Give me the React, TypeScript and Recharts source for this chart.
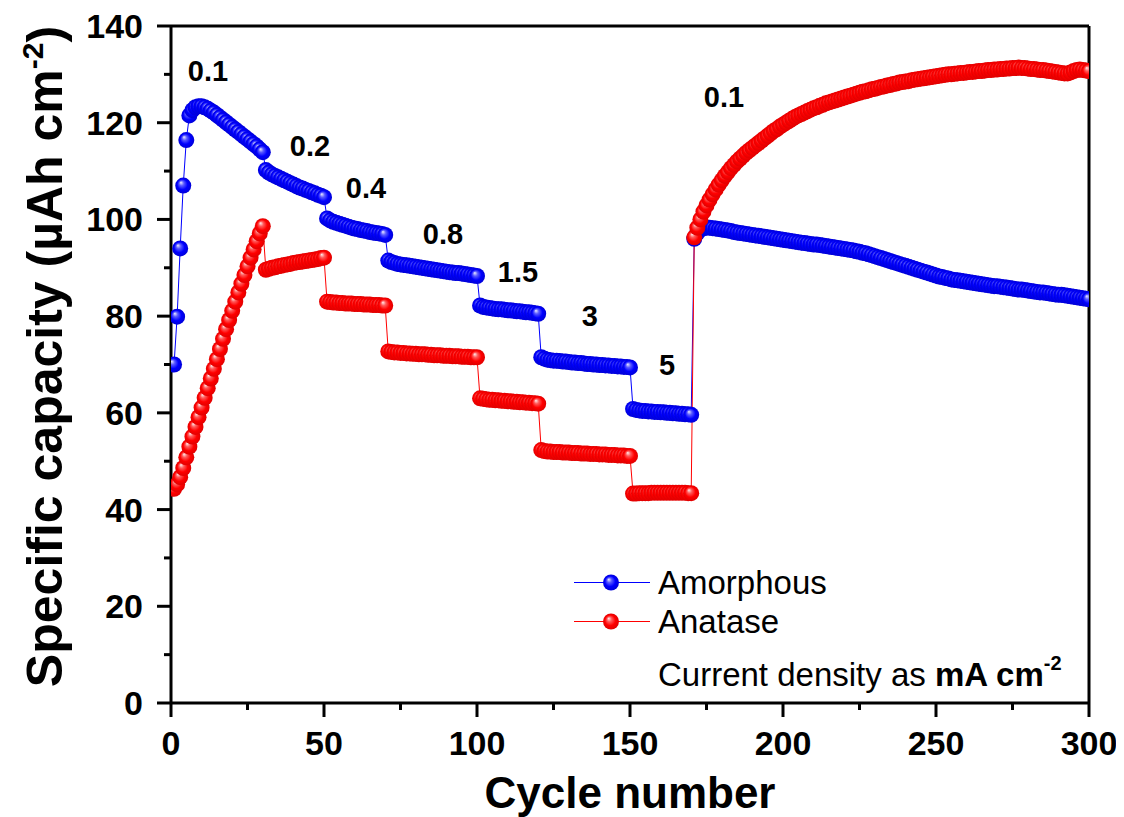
import {
  LineChart, Line, XAxis, YAxis, ReferenceLine, ReferenceDot, Legend, Label,
} from 'recharts'

const FONT = '"Liberation Sans", Arial, sans-serif'

// capacity per cycle, one array per current-density step (mA cm-2)
const amoStep01 = [70.0, 79.9, 94.0, 107.0, 116.4, 121.5, 122.6, 123.2, 123.4, 123.4, 123.2, 122.9, 122.5, 122.1, 121.6,
  121.1, 120.6, 120.1, 119.6, 119.1, 118.6, 118.1, 117.6, 117.1, 116.6, 116.1, 115.6, 115.1, 114.5, 113.9]
const amoStep02 = [110.2, 109.7, 109.3, 109.0, 108.7, 108.4, 108.1, 107.8, 107.5, 107.2, 106.9, 106.6, 106.4, 106.1,
  105.9, 105.6, 105.4, 105.1, 104.9, 104.6]
const amoStep04 = [100.2, 99.8, 99.5, 99.3, 99.1, 98.9, 98.7, 98.5, 98.3, 98.1, 98.0, 97.8, 97.7, 97.6, 97.4, 97.3,
  97.2, 97.1, 97.0, 96.8]
const amoStep08 = [91.5, 91.2, 91.0, 90.8, 90.7, 90.6, 90.5, 90.4, 90.3, 90.2, 90.1, 90.0, 89.9, 89.8, 89.7, 89.6,
  89.5, 89.4, 89.3, 89.2, 89.1, 89.0, 88.9, 88.9, 88.8, 88.7, 88.6, 88.5, 88.4, 88.3]
const amoStep15 = [82.2, 81.9, 81.8, 81.7, 81.6, 81.5, 81.4, 81.4, 81.3, 81.2, 81.2, 81.1, 81.0, 81.0, 80.9, 80.8,
  80.8, 80.7, 80.6, 80.5]
const amoStep3 = [71.5, 71.2, 71.0, 70.9, 70.8, 70.8, 70.7, 70.6, 70.6, 70.5, 70.4, 70.4, 70.3, 70.3, 70.2, 70.1,
  70.1, 70.0, 70.0, 69.9, 69.9, 69.8, 69.8, 69.7, 69.7, 69.6, 69.6, 69.5, 69.5, 69.4]
const amoStep5 = [60.8, 60.6, 60.5, 60.4, 60.4, 60.3, 60.3, 60.2, 60.2, 60.1, 60.1, 60.0, 60.0, 59.9, 59.9, 59.8,
  59.8, 59.7, 59.7, 59.6]
const amoBack01 = [
  96.0, 97.2, 97.9, 98.2, 98.3, 98.3, 98.2, 98.1, 98.0, 97.9,
  97.8, 97.7, 97.6, 97.4, 97.3, 97.2, 97.1, 97.0, 96.9, 96.8,
  96.7, 96.6, 96.5, 96.4, 96.3, 96.2, 96.1, 96.0, 95.9, 95.8,
  95.7, 95.6, 95.5, 95.4, 95.3, 95.2, 95.1, 95.0, 94.9, 94.8,
  94.8, 94.7, 94.6, 94.5, 94.4, 94.3, 94.2, 94.1, 94.0, 93.9,
  93.8, 93.7, 93.6, 93.4, 93.3, 93.1, 93.0, 92.8, 92.6, 92.4,
  92.2, 92.0, 91.8, 91.6, 91.4, 91.2, 91.0, 90.8, 90.6, 90.4,
  90.2, 90.0, 89.8, 89.6, 89.4, 89.2, 89.0, 88.8, 88.6, 88.4,
  88.2, 88.1, 87.9, 87.8, 87.6, 87.5, 87.4, 87.3, 87.2, 87.1,
  87.0, 86.9, 86.8, 86.7, 86.6, 86.5, 86.4, 86.3, 86.2, 86.2,
  86.1, 86.0, 85.9, 85.8, 85.7, 85.6, 85.5, 85.5, 85.4, 85.3,
  85.2, 85.1, 85.0, 84.9, 84.9, 84.8, 84.7, 84.6, 84.5, 84.4,
  84.4, 84.3, 84.2, 84.1, 84.0, 83.9, 83.8, 83.7, 83.6, 83.5,
]

const anaStep01 = [44.3, 45.2, 46.7, 48.6, 50.8, 53.0, 55.1, 57.1, 59.1, 61.1, 63.1, 65.1, 67.1, 69.1, 71.1, 73.2,
  75.3, 77.3, 79.2, 81.1, 83.0, 84.9, 86.7, 88.5, 90.3, 92.1, 93.8, 95.5, 97.1, 98.6]
const anaStep02 = [89.6, 89.8, 90.0, 90.1, 90.3, 90.4, 90.6, 90.7, 90.8, 91.0, 91.1, 91.2, 91.3, 91.4, 91.5, 91.6,
  91.7, 91.8, 92.0, 92.1]
const anaStep04 = [83.0, 82.9, 82.8, 82.8, 82.7, 82.7, 82.6, 82.6, 82.6, 82.5, 82.5, 82.5, 82.4, 82.4, 82.4, 82.3,
  82.3, 82.3, 82.2, 82.2]
const anaStep08 = [72.7, 72.6, 72.5, 72.5, 72.4, 72.4, 72.3, 72.3, 72.2, 72.2, 72.1, 72.1, 72.1, 72.0, 72.0, 71.9,
  71.9, 71.9, 71.8, 71.8, 71.8, 71.7, 71.7, 71.7, 71.6, 71.6, 71.6, 71.5, 71.5, 71.5]
const anaStep15 = [63.0, 62.9, 62.8, 62.7, 62.7, 62.6, 62.6, 62.5, 62.5, 62.4, 62.4, 62.3, 62.3, 62.2, 62.2, 62.1,
  62.1, 62.0, 62.0, 61.9]
const anaStep3 = [52.3, 52.1, 52.0, 52.0, 51.9, 51.9, 51.9, 51.8, 51.8, 51.8, 51.7, 51.7, 51.7, 51.6, 51.6, 51.6,
  51.5, 51.5, 51.5, 51.4, 51.4, 51.4, 51.3, 51.3, 51.3, 51.2, 51.2, 51.2, 51.1, 51.1]
const anaStep5 = [43.3, 43.3, 43.4, 43.4, 43.4, 43.4, 43.5, 43.5, 43.5, 43.5, 43.5, 43.5, 43.5, 43.5, 43.5, 43.5,
  43.5, 43.5, 43.4, 43.4]
const anaBack01 = [
  96.3, 98.3, 100.0, 101.6, 102.9, 104.1, 105.2, 106.2, 107.2, 108.1,
  109.0, 109.8, 110.6, 111.3, 112.0, 112.6, 113.2, 113.8, 114.3, 114.8,
  115.3, 115.8, 116.3, 116.8, 117.3, 117.8, 118.3, 118.7, 119.2, 119.6,
  120.0, 120.4, 120.8, 121.2, 121.5, 121.8, 122.1, 122.4, 122.7, 123.0,
  123.2, 123.5, 123.7, 124.0, 124.2, 124.4, 124.6, 124.8, 125.0, 125.2,
  125.4, 125.6, 125.8, 126.0, 126.2, 126.4, 126.5, 126.7, 126.9, 127.0,
  127.2, 127.4, 127.5, 127.7, 127.8, 128.0, 128.1, 128.3, 128.4, 128.5,
  128.6, 128.8, 128.9, 129.0, 129.1, 129.2, 129.3, 129.4, 129.5, 129.6,
  129.7, 129.8, 129.9, 130.0, 130.0, 130.1, 130.2, 130.3, 130.3, 130.4,
  130.5, 130.5, 130.6, 130.7, 130.7, 130.8, 130.9, 130.9, 131.0, 131.0,
  131.1, 131.1, 131.2, 131.2, 131.3, 131.3, 131.4, 131.3, 131.3, 131.2,
  131.1, 131.1, 131.0, 130.9, 130.9, 130.8, 130.7, 130.6, 130.5, 130.4,
  130.3, 130.2, 130.2, 130.4, 130.7, 130.9, 131.0, 130.9, 130.8, 130.7,
]

const amorphous = [...amoStep01, ...amoStep02, ...amoStep04, ...amoStep08, ...amoStep15, ...amoStep3, ...amoStep5, ...amoBack01]
const anatase = [...anaStep01, ...anaStep02, ...anaStep04, ...anaStep08, ...anaStep15, ...anaStep3, ...anaStep5, ...anaBack01]

const rows = amorphous.map((v, i) => ({ cycle: i + 1, amorphous: v, anatase: anatase[i] }))

// current density written over each step
const stepLabels = [
  { text: '0.1', cycle: 12.1, cap: 130.7 },
  { text: '0.2', cycle: 45.4, cap: 115.2 },
  { text: '0.4', cycle: 63.7, cap: 106.5 },
  { text: '0.8', cycle: 88.9, cap: 97.0 },
  { text: '1.5', cycle: 113.4, cap: 89.1 },
  { text: '3', cycle: 136.9, cap: 80.0 },
  { text: '5', cycle: 162.1, cap: 69.9 },
  { text: '0.1', cycle: 180.7, cap: 125.3 },
]

const xTicks = [0, 25, 50, 75, 100, 125, 150, 175, 200, 225, 250, 275, 300]
const yTicks = [0, 10, 20, 30, 40, 50, 60, 70, 80, 90, 100, 110, 120, 130, 140]

const series = [
  { key: 'amorphous', name: 'Amorphous', color: '#0000ff', ball: 'url(#ballBlue)' },
  { key: 'anatase', name: 'Anatase', color: '#ff0000', ball: 'url(#ballRed)' },
]

const ball = (fill: string) => (p: any) => (
  <circle key={`b-${p.index}`} cx={p.cx} cy={p.cy} r={8} fill={fill} />
)

function XTick({ x, y, payload }: any) {
  const major = payload.value % 50 === 0
  return (
    <g>
      <line x1={x} x2={x} y1={y} y2={y + (major ? 14 : 7)} stroke="#000" strokeWidth={3} />
      {major && (
        <text x={x} y={y + 52} textAnchor="middle" fontFamily={FONT} fontWeight="bold" fontSize={34} fill="#000">
          {payload.value}
        </text>
      )}
    </g>
  )
}

function YTick({ x, y, payload }: any) {
  const major = payload.value % 20 === 0
  return (
    <g>
      <line x1={x - (major ? 14 : 7)} x2={x} y1={y} y2={y} stroke="#000" strokeWidth={3} />
      {major && (
        <text x={x - 28} y={y + 12} textAnchor="end" fontFamily={FONT} fontWeight="bold" fontSize={34} fill="#000">
          {payload.value}
        </text>
      )}
    </g>
  )
}

function YTitle({ viewBox }: any) {
  const cx = viewBox.x + 54
  const cy = viewBox.y + viewBox.height / 2 - 8
  return (
    <text transform={`translate(${cx}, ${cy}) rotate(-90)`} textAnchor="middle" fontFamily={FONT}
      fontWeight="bold" fontSize={50} fill="#000">
      Specific capacity (µAh cm<tspan dy={-19} fontSize={30}>-2</tspan><tspan dy={19}>)</tspan>
    </text>
  )
}

function XTitle({ viewBox }: any) {
  return (
    <text x={viewBox.x + viewBox.width / 2} y={viewBox.y + 105} textAnchor="middle" fontFamily={FONT}
      fontWeight="bold" fontSize={44} fill="#000">
      Cycle number
    </text>
  )
}

function LegendBox() {
  return (
    <div style={{ fontFamily: FONT, fontSize: 33, color: '#000', lineHeight: '39px' }}>
      {series.map((s) => (
        <div key={s.key} style={{ display: 'flex', alignItems: 'center', height: 39 }}>
          <svg width={84} height={39}>
            <line x1={0} x2={76} y1={19.5} y2={19.5} stroke={s.color} strokeWidth={1} />
            <circle cx={37} cy={19.5} r={8} fill={s.ball} />
          </svg>
          <span>{s.name}</span>
        </div>
      ))}
      <div style={{ marginLeft: 84, marginTop: 14, whiteSpace: 'nowrap' }}>
        Current density as <b>mA cm<sup style={{ fontSize: 20, lineHeight: 0, verticalAlign: '0.8em' }}>-2</sup></b>
      </div>
    </div>
  )
}

export default function App() {
  return (
    <LineChart width={1116} height={809} data={rows} margin={{ top: 18, right: 35, left: 0, bottom: 0 }}>
      <defs>
        <radialGradient id="ballBlue" cx="0.5" cy="0.5" r="0.5" fx="0.35" fy="0.3">
          <stop offset="0" stopColor="#eeeeff" />
          <stop offset="0.3" stopColor="#5a5aff" />
          <stop offset="0.65" stopColor="#0000ff" />
          <stop offset="1" stopColor="#0000d8" />
        </radialGradient>
        <radialGradient id="ballRed" cx="0.5" cy="0.5" r="0.5" fx="0.35" fy="0.3">
          <stop offset="0" stopColor="#ffeeee" />
          <stop offset="0.3" stopColor="#ff5a5a" />
          <stop offset="0.65" stopColor="#ff0000" />
          <stop offset="1" stopColor="#e00000" />
        </radialGradient>
      </defs>
      <XAxis dataKey="cycle" type="number" domain={[0, 300]} ticks={xTicks} interval={0} allowDataOverflow
        height={114} axisLine={{ stroke: '#000', strokeWidth: 3 }} tickLine={false} tickSize={0} tickMargin={0}
        tick={XTick}>
        <Label content={XTitle} />
      </XAxis>
      <YAxis type="number" domain={[0, 140]} ticks={yTicks} interval={0} allowDataOverflow width={163}
        axisLine={{ stroke: '#000', strokeWidth: 3 }} tickLine={false} tickSize={0} tickMargin={0} tick={YTick}>
        <Label content={YTitle} />
      </YAxis>
      <ReferenceLine y={140} stroke="#000" strokeWidth={3} />
      <ReferenceLine x={300} stroke="#000" strokeWidth={3} />
      {series.map((s) => (
        <Line key={s.key} dataKey={s.key} name={s.name} type="linear" stroke={s.color} strokeWidth={1}
          dot={ball(s.ball)} activeDot={false} isAnimationActive={false} />
      ))}
      {stepLabels.map((l, i) => (
        <ReferenceDot key={i} x={l.cycle} y={l.cap} r={0} fill="none" stroke="none"
          label={{ value: l.text, position: 'center', fontFamily: FONT, fontWeight: 'bold', fontSize: 29, fill: '#000' }} />
      ))}
      <Legend layout="vertical" align="center" verticalAlign="middle" content={LegendBox}
        wrapperStyle={{ left: 566, top: 555, width: 540 }} />
    </LineChart>
  )
}
